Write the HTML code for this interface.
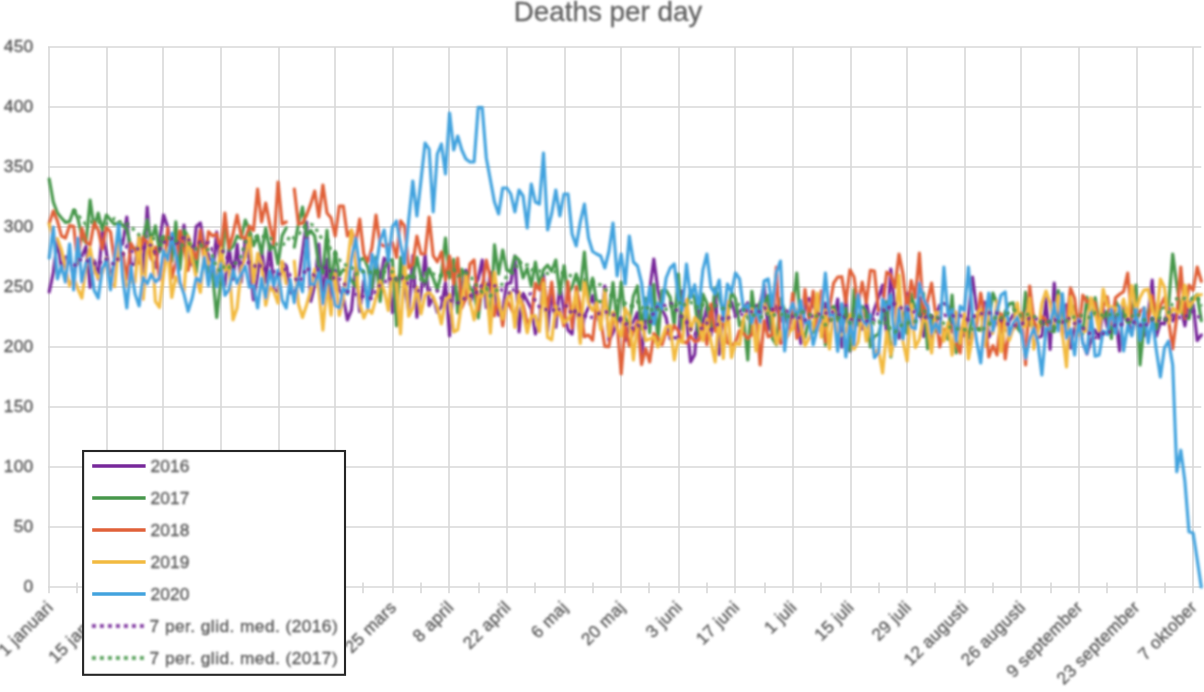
<!DOCTYPE html>
<html><head><meta charset="utf-8"><title>Deaths per day</title>
<style>
html,body{margin:0;padding:0;background:#fff;}
body{width:1204px;height:692px;overflow:hidden;font-family:"Liberation Sans",sans-serif;}
.t,.ti{stroke:#545454;stroke-width:0.3px;}
.t{font-family:"Liberation Sans",sans-serif;font-size:17.3px;fill:#545454;}
.ti{font-family:"Liberation Sans",sans-serif;font-size:27.8px;fill:#606060;stroke:#606060;stroke-width:0.3px;}
</style></head><body>
<svg width="1204" height="692" viewBox="0 0 1204 692" style="display:block">
<defs><filter id="tb" filterUnits="userSpaceOnUse" x="0" y="0" width="1204" height="692"><feGaussianBlur stdDeviation="0.8"/></filter></defs>
<rect width="1204" height="692" fill="#fff"/>
<path d="M48.0 587.0 H1201.3 M48.0 527.0 H1201.3 M48.0 467.0 H1201.3 M48.0 407.0 H1201.3 M48.0 347.0 H1201.3 M48.0 287.0 H1201.3 M48.0 227.0 H1201.3 M48.0 167.0 H1201.3 M48.0 107.0 H1201.3 M48.0 47.0 H1201.3 M49.0 47.0 V593.3 M107.0 47.0 V593.3 M163.0 47.0 V593.3 M221.0 47.0 V593.3 M279.0 47.0 V593.3 M335.0 47.0 V593.3 M393.0 47.0 V593.3 M449.0 47.0 V593.3 M507.0 47.0 V593.3 M565.0 47.0 V593.3 M621.0 47.0 V593.3 M679.0 47.0 V593.3 M735.0 47.0 V593.3 M793.0 47.0 V593.3 M851.0 47.0 V593.3 M907.0 47.0 V593.3 M965.0 47.0 V593.3 M1021.0 47.0 V593.3 M1079.0 47.0 V593.3 M1137.0 47.0 V593.3 M1193.0 47.0 V593.3 M49.0 582.5 V593.3 M77.0 582.5 V593.3 M107.0 582.5 V593.3 M135.0 582.5 V593.3 M163.0 582.5 V593.3 M193.0 582.5 V593.3 M221.0 582.5 V593.3 M249.0 582.5 V593.3 M279.0 582.5 V593.3 M307.0 582.5 V593.3 M335.0 582.5 V593.3 M363.0 582.5 V593.3 M393.0 582.5 V593.3 M421.0 582.5 V593.3 M449.0 582.5 V593.3 M479.0 582.5 V593.3 M507.0 582.5 V593.3 M535.0 582.5 V593.3 M565.0 582.5 V593.3 M593.0 582.5 V593.3 M621.0 582.5 V593.3 M649.0 582.5 V593.3 M679.0 582.5 V593.3 M707.0 582.5 V593.3 M735.0 582.5 V593.3 M765.0 582.5 V593.3 M793.0 582.5 V593.3 M821.0 582.5 V593.3 M851.0 582.5 V593.3 M879.0 582.5 V593.3 M907.0 582.5 V593.3 M935.0 582.5 V593.3 M965.0 582.5 V593.3 M993.0 582.5 V593.3 M1021.0 582.5 V593.3 M1051.0 582.5 V593.3 M1079.0 582.5 V593.3 M1107.0 582.5 V593.3 M1137.0 582.5 V593.3 M1165.0 582.5 V593.3 M1193.0 582.5 V593.3" stroke="#d9d9d9" stroke-width="1.6" fill="none"/>
<g filter="url(#tb)">
<text x="33.3" y="591.5" text-anchor="end" class="t" style="letter-spacing:0.15px;font-size:17.4px">0</text>
<text x="33.3" y="531.5" text-anchor="end" class="t" style="letter-spacing:0.15px;font-size:17.4px">50</text>
<text x="33.3" y="471.5" text-anchor="end" class="t" style="letter-spacing:0.15px;font-size:17.4px">100</text>
<text x="33.3" y="411.5" text-anchor="end" class="t" style="letter-spacing:0.15px;font-size:17.4px">150</text>
<text x="33.3" y="351.5" text-anchor="end" class="t" style="letter-spacing:0.15px;font-size:17.4px">200</text>
<text x="33.3" y="291.5" text-anchor="end" class="t" style="letter-spacing:0.15px;font-size:17.4px">250</text>
<text x="33.3" y="231.5" text-anchor="end" class="t" style="letter-spacing:0.15px;font-size:17.4px">300</text>
<text x="33.3" y="171.5" text-anchor="end" class="t" style="letter-spacing:0.15px;font-size:17.4px">350</text>
<text x="33.3" y="111.5" text-anchor="end" class="t" style="letter-spacing:0.15px;font-size:17.4px">400</text>
<text x="33.3" y="51.5" text-anchor="end" class="t" style="letter-spacing:0.15px;font-size:17.4px">450</text>
<text x="608" y="21" text-anchor="middle" class="ti" style="letter-spacing:0px">Deaths per day</text>
<text transform="translate(54.2,608.3) rotate(-45)" text-anchor="end" class="t" style="letter-spacing:0.3px">1 januari</text>
<text transform="translate(111.4,608.3) rotate(-45)" text-anchor="end" class="t" style="letter-spacing:0.3px">15 januari</text>
<text transform="translate(168.6,608.3) rotate(-45)" text-anchor="end" class="t" style="letter-spacing:0.3px">29 januari</text>
<text transform="translate(225.8,608.3) rotate(-45)" text-anchor="end" class="t" style="letter-spacing:0.3px">12 februari</text>
<text transform="translate(283.0,608.3) rotate(-45)" text-anchor="end" class="t" style="letter-spacing:0.3px">26 februari</text>
<text transform="translate(340.2,608.3) rotate(-45)" text-anchor="end" class="t" style="letter-spacing:0.3px">11 mars</text>
<text transform="translate(397.4,608.3) rotate(-45)" text-anchor="end" class="t" style="letter-spacing:0.3px">25 mars</text>
<text transform="translate(454.6,608.3) rotate(-45)" text-anchor="end" class="t" style="letter-spacing:0.3px">8 april</text>
<text transform="translate(511.8,608.3) rotate(-45)" text-anchor="end" class="t" style="letter-spacing:0.3px">22 april</text>
<text transform="translate(569.0,608.3) rotate(-45)" text-anchor="end" class="t" style="letter-spacing:0.3px">6 maj</text>
<text transform="translate(626.2,608.3) rotate(-45)" text-anchor="end" class="t" style="letter-spacing:0.3px">20 maj</text>
<text transform="translate(683.3,608.3) rotate(-45)" text-anchor="end" class="t" style="letter-spacing:0.3px">3 juni</text>
<text transform="translate(740.5,608.3) rotate(-45)" text-anchor="end" class="t" style="letter-spacing:0.3px">17 juni</text>
<text transform="translate(797.7,608.3) rotate(-45)" text-anchor="end" class="t" style="letter-spacing:0.3px">1 juli</text>
<text transform="translate(854.9,608.3) rotate(-45)" text-anchor="end" class="t" style="letter-spacing:0.3px">15 juli</text>
<text transform="translate(912.1,608.3) rotate(-45)" text-anchor="end" class="t" style="letter-spacing:0.3px">29 juli</text>
<text transform="translate(969.3,608.3) rotate(-45)" text-anchor="end" class="t" style="letter-spacing:0.3px">12 augusti</text>
<text transform="translate(1026.5,608.3) rotate(-45)" text-anchor="end" class="t" style="letter-spacing:0.3px">26 augusti</text>
<text transform="translate(1083.7,608.3) rotate(-45)" text-anchor="end" class="t" style="letter-spacing:0.3px">9 september</text>
<text transform="translate(1140.9,608.3) rotate(-45)" text-anchor="end" class="t" style="letter-spacing:0.3px">23 september</text>
<text transform="translate(1198.1,608.3) rotate(-45)" text-anchor="end" class="t" style="letter-spacing:0.3px">7 oktober</text>
</g>
<g filter="url(#tb)">
<path d="M49.2 291.8 L53.3 272.6 L57.4 239.2 L61.5 269.9 L65.5 256.9 L69.6 257.2 L73.7 278.7 L77.8 253.6 L81.9 256.1 L86.0 246.4 L90.1 287.4 L94.1 260.2 L98.2 279.1 L102.3 231.7 L106.4 252.4 L110.5 278.1 L114.6 263.0 L118.7 236.9 L122.7 244.3 L126.8 217.0 L130.9 265.1 L135.0 264.3 L139.1 237.3 L143.2 272.3 L147.2 207.0 L151.3 257.5 L155.4 267.7 L159.5 241.2 L163.6 215.0 L167.7 227.0 L171.8 253.4 L175.8 239.3 L179.9 253.9 L184.0 225.0 L188.1 259.4 L192.2 265.1 L196.3 226.5 L200.4 223.0 L204.4 247.2 L208.5 254.7 L212.6 275.3 L216.7 232.0 L220.8 272.2 L224.9 285.5 L229.0 244.4 L233.0 279.5 L237.1 244.2 L241.2 282.2 L245.3 239.2 L249.4 261.2 L253.5 300.0 L257.6 276.1 L261.6 247.8 L265.7 282.3 L269.8 243.8 L273.9 289.6 L278.0 292.0 L282.1 262.2 L286.2 265.6 L290.2 292.7 L294.3 294.0 L298.4 281.1 L302.5 252.3 L306.6 222.0 L310.7 301.5 L314.7 285.7 L318.8 244.0 L322.9 297.6 L327.0 259.4 L331.1 306.7 L335.2 270.3 L339.3 289.7 L343.3 297.3 L347.4 320.0 L351.5 310.1 L355.6 267.8 L359.7 311.6 L363.8 280.5 L367.9 303.2 L371.9 292.9 L376.0 259.5 L380.1 280.6 L384.2 258.0 L388.3 262.7 L392.4 312.6 L396.5 285.7 L400.5 270.7 L404.6 287.8 L408.7 311.3 L412.8 255.7 L416.9 317.3 L421.0 293.7 L425.1 254.0 L429.1 305.6 L433.2 297.0 L437.3 312.4 L441.4 306.5 L445.5 282.5 L449.6 336.0 L453.7 281.2 L457.7 303.9 L461.8 292.3 L465.9 270.0 L470.0 304.2 L474.1 288.1 L478.2 278.8 L482.2 260.0 L486.3 307.7 L490.4 272.2 L494.5 290.3 L498.6 315.3 L502.7 310.6 L506.8 283.5 L510.8 283.0 L514.9 256.0 L519.0 332.0 L523.1 293.3 L527.2 300.9 L531.3 308.8 L535.4 334.0 L539.4 323.0 L543.5 274.4 L547.6 331.2 L551.7 287.1 L555.8 327.4 L559.9 283.6 L564.0 312.0 L568.0 330.0 L572.1 334.0 L576.2 293.7 L580.3 340.0 L584.4 316.0 L588.5 307.5 L592.6 295.5 L596.6 313.3 L600.7 325.8 L604.8 286.0 L608.9 340.4 L613.0 333.0 L617.1 322.8 L621.2 317.7 L625.2 340.6 L629.3 326.6 L633.4 321.4 L637.5 312.5 L641.6 356.0 L645.7 317.9 L649.7 290.0 L653.8 259.0 L657.9 290.0 L662.0 309.2 L666.1 317.8 L670.2 338.9 L674.3 337.4 L678.3 339.1 L682.4 290.8 L686.5 319.2 L690.6 362.0 L694.7 354.6 L698.8 301.1 L702.9 328.3 L706.9 305.5 L711.0 335.6 L715.1 288.5 L719.2 354.7 L723.3 306.2 L727.4 312.9 L731.5 301.8 L735.5 314.4 L739.6 311.8 L743.7 307.9 L747.8 302.7 L751.9 334.8 L756.0 305.7 L760.1 304.3 L764.1 285.0 L768.2 330.0 L772.3 301.7 L776.4 307.7 L780.5 321.2 L784.6 313.7 L788.6 329.2 L792.7 312.7 L796.8 316.8 L800.9 343.6 L805.0 303.9 L809.1 298.5 L813.2 306.3 L817.2 311.5 L821.3 327.7 L825.4 303.1 L829.5 319.8 L833.6 321.2 L837.7 299.1 L841.8 347.2 L845.8 294.3 L849.9 351.3 L854.0 300.4 L858.1 324.4 L862.2 329.2 L866.3 302.1 L870.4 322.5 L874.4 309.3 L878.5 297.7 L882.6 285.0 L886.7 337.2 L890.8 269.0 L894.9 307.3 L899.0 338.3 L903.0 329.4 L907.1 293.2 L911.2 319.3 L915.3 322.2 L919.4 297.2 L923.5 336.6 L927.6 304.8 L931.6 341.3 L935.7 316.3 L939.8 305.1 L943.9 303.4 L948.0 306.1 L952.1 331.9 L956.1 312.2 L960.2 333.4 L964.3 335.7 L968.4 315.5 L972.5 277.0 L976.6 309.4 L980.7 314.9 L984.7 302.0 L988.8 337.3 L992.9 329.9 L997.0 319.6 L1001.1 331.2 L1005.2 329.9 L1009.3 321.3 L1013.3 314.6 L1017.4 323.0 L1021.5 328.2 L1025.6 302.4 L1029.7 304.9 L1033.8 328.3 L1037.9 337.4 L1041.9 336.1 L1046.0 298.1 L1050.1 349.4 L1054.2 283.0 L1058.3 324.2 L1062.4 328.1 L1066.5 304.7 L1070.5 348.1 L1074.6 327.6 L1078.7 320.2 L1082.8 342.5 L1086.9 354.0 L1091.0 340.5 L1095.1 330.0 L1099.1 338.0 L1103.2 308.6 L1107.3 327.2 L1111.4 312.3 L1115.5 316.2 L1119.6 351.0 L1123.6 303.6 L1127.7 317.3 L1131.8 334.4 L1135.9 315.6 L1140.0 335.5 L1144.1 336.0 L1148.2 314.5 L1152.2 280.0 L1156.3 336.3 L1160.4 322.9 L1164.5 324.0 L1168.6 307.3 L1172.7 321.0 L1176.8 311.7 L1180.8 308.3 L1184.9 325.9 L1189.0 301.3 L1193.1 304.4 L1197.2 340.5 L1201.3 335.0" stroke="#77289a" stroke-width="3.15" fill="none" stroke-linejoin="round" stroke-linecap="round"/>
<path d="M49.2 179.0 L53.3 202.0 L57.4 213.0 L61.5 218.0 L65.5 222.4 L69.6 221.6 L73.7 210.0 L77.8 218.0 L81.9 237.0 L86.0 243.1 L90.1 200.0 L94.1 228.0 L98.2 213.0 L102.3 230.0 L106.4 215.0 L110.5 220.0 L114.6 224.3 L118.7 223.0 L122.7 225.0 L126.8 229.0 L130.9 247.0 L135.0 250.0 L139.1 246.0 L143.2 238.0 L147.2 220.0 L151.3 241.1 L155.4 225.8 L159.5 251.6 L163.6 236.4 L167.7 246.6 L171.8 261.4 L175.8 221.9 L179.9 269.4 L184.0 230.2 L188.1 236.3 L192.2 250.7 L196.3 272.5 L200.4 231.4 L204.4 254.9 L208.5 272.2 L212.6 274.2 L216.7 317.5 L220.8 280.9 L224.9 222.7 L229.0 250.0 L233.0 246.5 L237.1 236.0 L241.2 238.3 L245.3 220.0 L249.4 230.0 L253.5 245.8 L257.6 236.0 L261.6 253.6 L265.7 228.0 L269.8 250.0 L273.9 244.0 L278.0 264.0 L282.1 235.7 L286.2 228.0 M294.3 247.2 L298.4 224.0 L302.5 207.0 L306.6 236.0 L310.7 230.5 L314.7 236.0 L318.8 266.0 L322.9 273.2 L327.0 230.3 L331.1 286.0 L335.2 251.5 L339.3 275.6 L343.3 269.5 L347.4 271.5 L351.5 280.5 L355.6 286.4 L359.7 260.4 L363.8 257.7 L367.9 267.5 L371.9 287.9 L376.0 257.1 L380.1 301.5 L384.2 269.0 L388.3 260.4 L392.4 259.8 L396.5 326.0 L400.5 257.4 L404.6 285.6 L408.7 275.6 L412.8 277.2 L416.9 257.2 L421.0 277.0 L425.1 283.8 L429.1 268.5 L433.2 278.1 L437.3 289.4 L441.4 274.0 L445.5 238.0 L449.6 278.0 L453.7 259.3 L457.7 313.0 L461.8 269.2 L465.9 276.9 L470.0 288.3 L474.1 292.0 L478.2 318.0 L482.2 285.8 L486.3 285.6 L490.4 324.0 L494.5 244.9 L498.6 274.0 L502.7 250.0 L506.8 270.0 L510.8 272.0 L514.9 256.2 L519.0 260.0 L523.1 278.0 L527.2 268.0 L531.3 286.0 L535.4 262.0 L539.4 286.0 L543.5 269.6 L547.6 265.1 L551.7 271.3 L555.8 260.0 L559.9 294.0 L564.0 265.7 L568.0 294.0 L572.1 286.9 L576.2 274.0 L580.3 290.0 L584.4 252.0 L588.5 298.0 L592.6 278.0 L596.6 302.0 L600.7 301.4 L604.8 302.2 L608.9 314.7 L613.0 282.5 L617.1 322.1 L621.2 282.0 L625.2 318.0 L629.3 324.5 L633.4 296.1 L637.5 286.0 L641.6 329.1 L645.7 298.0 L649.7 332.9 L653.8 284.4 L657.9 340.9 L662.0 290.4 L666.1 290.4 L670.2 297.4 L674.3 326.0 L678.3 274.0 L682.4 329.6 L686.5 309.2 L690.6 290.0 L694.7 299.0 L698.8 336.8 L702.9 294.0 L706.9 303.3 L711.0 327.9 L715.1 288.1 L719.2 298.0 L723.3 312.4 L727.4 317.5 L731.5 291.7 L735.5 299.0 L739.6 325.9 L743.7 319.3 L747.8 360.0 L751.9 291.3 L756.0 321.4 L760.1 302.0 L764.1 303.2 L768.2 295.4 L772.3 338.4 L776.4 345.0 L780.5 298.7 L784.6 310.0 L788.6 325.5 L792.7 306.9 L796.8 273.0 L800.9 328.6 L805.0 337.6 L809.1 318.2 L813.2 332.7 L817.2 313.8 L821.3 297.9 L825.4 345.2 L829.5 308.6 L833.6 306.3 L837.7 320.9 L841.8 319.8 L845.8 308.4 L849.9 350.6 L854.0 289.3 L858.1 324.4 L862.2 306.5 L866.3 312.2 L870.4 347.0 L874.4 336.3 L878.5 334.2 L882.6 318.2 L886.7 301.7 L890.8 357.0 L894.9 331.3 L899.0 312.6 L903.0 313.1 L907.1 333.4 L911.2 293.8 L915.3 309.0 L919.4 314.4 L923.5 293.0 L927.6 349.0 L931.6 316.5 L935.7 331.6 L939.8 328.2 L943.9 331.4 L948.0 339.3 L952.1 295.0 L956.1 353.0 L960.2 337.1 L964.3 323.2 L968.4 338.6 L972.5 315.3 L976.6 328.0 L980.7 330.1 L984.7 316.2 L988.8 323.4 L992.9 293.0 L997.0 303.3 L1001.1 331.9 L1005.2 311.5 L1009.3 303.9 L1013.3 302.9 L1017.4 328.1 L1021.5 333.4 L1025.6 292.2 L1029.7 325.1 L1033.8 326.3 L1037.9 329.7 L1041.9 323.8 L1046.0 322.8 L1050.1 330.5 L1054.2 331.7 L1058.3 290.6 L1062.4 312.5 L1066.5 335.2 L1070.5 311.5 L1074.6 306.0 L1078.7 320.7 L1082.8 334.2 L1086.9 297.0 L1091.0 321.8 L1095.1 297.5 L1099.1 320.3 L1103.2 317.6 L1107.3 311.2 L1111.4 338.5 L1115.5 301.1 L1119.6 308.4 L1123.6 311.2 L1127.7 323.1 L1131.8 321.6 L1135.9 285.0 L1140.0 365.0 L1144.1 324.8 L1148.2 311.8 L1152.2 301.8 L1156.3 328.9 L1160.4 308.0 L1164.5 307.8 L1168.6 305.0 L1172.7 254.0 L1176.8 285.1 L1180.8 311.0 L1184.9 316.7 L1189.0 318.7 L1193.1 298.1 L1197.2 294.3 L1201.3 320.7" stroke="#47974b" stroke-width="3.15" fill="none" stroke-linejoin="round" stroke-linecap="round"/>
<path d="M49.2 223.4 L53.3 211.0 L57.4 220.9 L61.5 236.0 L65.5 238.0 L69.6 225.6 L73.7 226.2 L77.8 263.7 L81.9 228.2 L86.0 242.0 L90.1 245.1 L94.1 222.6 L98.2 230.0 L102.3 249.0 L106.4 227.2 L110.5 232.0 L114.6 261.9 L118.7 259.7 L122.7 252.6 L126.8 279.1 L130.9 243.4 L135.0 249.8 L139.1 263.2 L143.2 237.3 L147.2 242.2 L151.3 259.3 L155.4 247.0 L159.5 279.9 L163.6 271.5 L167.7 227.7 L171.8 278.2 L175.8 262.3 L179.9 230.9 L184.0 246.9 L188.1 270.5 L192.2 249.8 L196.3 258.6 L200.4 230.0 L204.4 265.1 L208.5 231.7 L212.6 236.0 L216.7 234.0 L220.8 249.8 L224.9 213.0 L229.0 248.0 L233.0 234.0 L237.1 215.0 L241.2 236.0 L245.3 239.4 L249.4 226.0 L253.5 230.4 L257.6 189.0 L261.6 222.0 L265.7 203.0 L269.8 224.6 L273.9 244.0 L278.0 182.0 L282.1 224.0 L286.2 222.0 M294.3 189.0 L298.4 224.0 L302.5 223.2 L306.6 215.0 L310.7 204.1 L314.7 191.0 L318.8 217.0 L322.9 185.0 L327.0 213.0 L331.1 218.0 L335.2 236.0 L339.3 206.0 L343.3 206.0 L347.4 236.0 L351.5 230.0 L355.6 244.0 L359.7 219.0 L363.8 254.0 L367.9 261.5 L371.9 248.0 L376.0 215.0 L380.1 244.0 L384.2 246.2 L388.3 244.9 L392.4 242.7 L396.5 257.5 L400.5 220.8 L404.6 226.0 L408.7 268.0 L412.8 264.1 L416.9 236.0 L421.0 254.0 L425.1 253.7 L429.1 217.0 L433.2 255.6 L437.3 262.0 L441.4 252.0 L445.5 280.2 L449.6 256.0 L453.7 284.0 L457.7 258.0 L461.8 308.0 L465.9 298.1 L470.0 264.0 L474.1 260.0 L478.2 310.0 L482.2 287.2 L486.3 260.0 L490.4 278.0 L494.5 316.0 L498.6 298.9 L502.7 326.0 L506.8 300.0 L510.8 308.0 L514.9 316.0 L519.0 298.5 L523.1 304.8 L527.2 323.1 L531.3 318.8 L535.4 283.4 L539.4 290.0 L543.5 278.9 L547.6 309.1 L551.7 282.0 L555.8 316.0 L559.9 311.5 L564.0 326.0 L568.0 281.6 L572.1 328.2 L576.2 286.7 L580.3 306.8 L584.4 336.8 L588.5 335.0 L592.6 340.3 L596.6 303.7 L600.7 319.7 L604.8 346.3 L608.9 346.6 L613.0 320.0 L617.1 322.4 L621.2 374.0 L625.2 323.6 L629.3 346.0 L633.4 330.8 L637.5 321.5 L641.6 364.6 L645.7 348.4 L649.7 362.0 L653.8 333.6 L657.9 338.2 L662.0 345.0 L666.1 331.5 L670.2 335.4 L674.3 325.6 L678.3 330.9 L682.4 341.1 L686.5 343.1 L690.6 335.8 L694.7 341.7 L698.8 340.5 L702.9 324.6 L706.9 344.6 L711.0 304.0 L715.1 331.5 L719.2 326.5 L723.3 319.5 L727.4 342.7 L731.5 345.6 L735.5 342.1 L739.6 330.6 L743.7 333.8 L747.8 338.5 L751.9 334.4 L756.0 309.5 L760.1 365.0 L764.1 320.5 L768.2 336.8 L772.3 334.8 L776.4 267.0 L780.5 343.7 L784.6 340.3 L788.6 334.1 L792.7 293.4 L796.8 338.3 L800.9 332.4 L805.0 289.4 L809.1 319.1 L813.2 291.1 L817.2 330.7 L821.3 290.8 L825.4 341.8 L829.5 307.5 L833.6 283.2 L837.7 277.0 L841.8 276.7 L845.8 303.0 L849.9 269.9 L854.0 277.0 L858.1 305.0 L862.2 282.0 L866.3 303.0 L870.4 270.3 L874.4 271.0 L878.5 311.0 L882.6 308.4 L886.7 272.1 L890.8 275.0 L894.9 287.4 L899.0 254.0 L903.0 274.2 L907.1 311.0 L911.2 280.5 L915.3 297.7 L919.4 253.0 L923.5 315.9 L927.6 301.0 L931.6 283.0 L935.7 315.3 L939.8 347.0 L943.9 329.6 L948.0 328.0 L952.1 326.0 L956.1 342.5 L960.2 353.0 L964.3 314.4 L968.4 351.9 L972.5 334.6 L976.6 324.5 L980.7 293.0 L984.7 316.3 L988.8 357.0 L992.9 345.5 L997.0 355.0 L1001.1 313.7 L1005.2 359.0 L1009.3 329.0 L1013.3 329.4 L1017.4 319.7 L1021.5 313.5 L1025.6 365.0 L1029.7 286.0 L1033.8 319.9 L1037.9 330.8 L1041.9 316.3 L1046.0 320.4 L1050.1 329.4 L1054.2 317.9 L1058.3 301.5 L1062.4 335.6 L1066.5 322.1 L1070.5 288.0 L1074.6 298.3 L1078.7 330.0 L1082.8 295.2 L1086.9 301.8 L1091.0 300.7 L1095.1 303.0 L1099.1 327.2 L1103.2 306.6 L1107.3 296.6 L1111.4 323.8 L1115.5 297.8 L1119.6 294.2 L1123.6 291.6 L1127.7 273.0 L1131.8 318.8 L1135.9 323.6 L1140.0 311.5 L1144.1 307.8 L1148.2 322.4 L1152.2 295.8 L1156.3 311.9 L1160.4 305.9 L1164.5 297.5 L1168.6 320.3 L1172.7 349.0 L1176.8 316.3 L1180.8 267.0 L1184.9 318.4 L1189.0 285.1 L1193.1 290.3 L1197.2 267.0 L1201.3 281.3" stroke="#e06139" stroke-width="3.15" fill="none" stroke-linejoin="round" stroke-linecap="round"/>
<path d="M49.2 224.0 L53.3 238.0 L57.4 238.9 L61.5 250.0 L65.5 267.4 L69.6 285.9 L73.7 277.3 L77.8 288.8 L81.9 298.0 L86.0 266.2 L90.1 247.9 L94.1 270.1 L98.2 278.3 L102.3 273.0 L106.4 258.5 L110.5 282.3 L114.6 286.6 L118.7 242.8 L122.7 269.2 L126.8 286.1 L130.9 281.5 L135.0 282.3 L139.1 236.5 L143.2 299.3 L147.2 250.4 L151.3 238.0 L155.4 301.4 L159.5 307.4 L163.6 274.1 L167.7 248.4 L171.8 297.5 L175.8 276.5 L179.9 283.9 L184.0 291.5 L188.1 236.0 L192.2 259.5 L196.3 277.8 L200.4 292.3 L204.4 250.4 L208.5 263.4 L212.6 262.9 L216.7 280.7 L220.8 248.0 L224.9 270.7 L229.0 265.4 L233.0 320.0 L237.1 308.0 L241.2 268.8 L245.3 257.0 L249.4 236.0 L253.5 282.5 L257.6 253.4 L261.6 264.5 L265.7 305.3 L269.8 286.8 L273.9 291.7 L278.0 303.2 L282.1 261.4 L286.2 283.7 M294.3 261.2 L298.4 304.0 L302.5 317.5 L306.6 305.0 L310.7 290.5 L314.7 269.1 L318.8 289.4 L322.9 330.2 L327.0 284.3 L331.1 315.1 L335.2 273.7 L339.3 315.5 L343.3 298.3 L347.4 266.0 L351.5 230.0 L355.6 264.0 L359.7 303.1 L363.8 318.0 L367.9 308.7 L371.9 313.4 L376.0 297.9 L380.1 281.2 L384.2 290.3 L388.3 310.5 L392.4 268.6 L396.5 283.8 L400.5 334.0 L404.6 262.9 L408.7 316.3 L412.8 308.2 L416.9 287.0 L421.0 314.0 L425.1 295.0 L429.1 292.0 L433.2 297.0 L437.3 307.0 L441.4 324.0 L445.5 300.0 L449.6 294.3 L453.7 332.0 L457.7 329.9 L461.8 302.1 L465.9 275.5 L470.0 301.0 L474.1 320.0 L478.2 297.2 L482.2 296.2 L486.3 283.3 L490.4 333.1 L494.5 272.5 L498.6 301.6 L502.7 318.9 L506.8 300.3 L510.8 292.3 L514.9 327.5 L519.0 291.7 L523.1 312.9 L527.2 332.8 L531.3 316.3 L535.4 315.7 L539.4 331.7 L543.5 283.1 L547.6 337.4 L551.7 340.0 L555.8 306.1 L559.9 314.5 L564.0 322.7 L568.0 319.5 L572.1 311.4 L576.2 292.1 L580.3 343.5 L584.4 281.7 L588.5 303.2 L592.6 310.7 L596.6 302.9 L600.7 329.5 L604.8 290.3 L608.9 336.0 L613.0 312.1 L617.1 327.9 L621.2 336.0 L625.2 308.4 L629.3 316.0 L633.4 360.0 L637.5 323.9 L641.6 322.3 L645.7 340.6 L649.7 339.0 L653.8 336.7 L657.9 347.1 L662.0 338.1 L666.1 327.1 L670.2 325.6 L674.3 360.0 L678.3 339.7 L682.4 342.7 L686.5 299.6 L690.6 330.6 L694.7 317.7 L698.8 322.2 L702.9 340.8 L706.9 319.6 L711.0 341.6 L715.1 362.0 L719.2 315.7 L723.3 358.5 L727.4 301.4 L731.5 357.6 L735.5 343.1 L739.6 344.8 L743.7 317.8 L747.8 311.1 L751.9 309.5 L756.0 351.1 L760.1 321.7 L764.1 304.2 L768.2 313.0 L772.3 313.0 L776.4 343.8 L780.5 331.4 L784.6 342.2 L788.6 332.6 L792.7 328.9 L796.8 309.6 L800.9 324.2 L805.0 345.8 L809.1 338.3 L813.2 326.8 L817.2 293.0 L821.3 337.3 L825.4 310.4 L829.5 349.0 L833.6 310.7 L837.7 336.9 L841.8 334.6 L845.8 331.6 L849.9 314.6 L854.0 349.2 L858.1 342.2 L862.2 310.5 L866.3 341.3 L870.4 321.6 L874.4 355.0 L878.5 348.7 L882.6 373.0 L886.7 331.5 L890.8 355.3 L894.9 333.6 L899.0 275.0 L903.0 341.5 L907.1 361.0 L911.2 304.7 L915.3 347.7 L919.4 339.4 L923.5 317.0 L927.6 323.2 L931.6 353.0 L935.7 312.5 L939.8 312.7 L943.9 341.2 L948.0 322.5 L952.1 355.2 L956.1 312.0 L960.2 343.0 L964.3 312.6 L968.4 359.0 L972.5 336.6 L976.6 314.6 L980.7 309.5 L984.7 346.4 L988.8 304.5 L992.9 333.3 L997.0 301.4 L1001.1 351.8 L1005.2 319.4 L1009.3 340.3 L1013.3 328.0 L1017.4 302.9 L1021.5 327.5 L1025.6 326.2 L1029.7 298.4 L1033.8 349.2 L1037.9 332.4 L1041.9 303.5 L1046.0 291.0 L1050.1 302.8 L1054.2 324.6 L1058.3 295.9 L1062.4 333.3 L1066.5 367.0 L1070.5 297.0 L1074.6 321.9 L1078.7 335.4 L1082.8 330.7 L1086.9 331.3 L1091.0 297.7 L1095.1 312.8 L1099.1 330.7 L1103.2 289.0 L1107.3 305.9 L1111.4 307.0 L1115.5 308.2 L1119.6 313.6 L1123.6 299.1 L1127.7 317.2 L1131.8 285.5 L1135.9 311.1 L1140.0 297.6 L1144.1 290.0 L1148.2 289.2 L1152.2 309.2 L1156.3 320.9 L1160.4 279.0 L1164.5 287.4 L1168.6 323.0 L1172.7 308.0 L1176.8 311.9 L1180.8 312.1 L1184.9 285.1 L1189.0 306.8 L1193.1 301.0 L1197.2 295.1 L1201.3 294.7" stroke="#f2ba40" stroke-width="3.15" fill="none" stroke-linejoin="round" stroke-linecap="round"/>
<path d="M49.2 258.0 L53.3 227.0 L57.4 279.0 L61.5 266.0 L65.5 282.0 L69.6 244.0 L73.7 290.0 L77.8 238.0 L81.9 282.0 L86.0 263.1 L90.1 258.0 L94.1 290.2 L98.2 298.0 L102.3 269.1 L106.4 260.0 L110.5 289.9 L114.6 258.2 L118.7 224.0 L122.7 277.1 L126.8 308.0 L130.9 266.2 L135.0 293.7 L139.1 306.0 L143.2 277.2 L147.2 284.0 L151.3 274.2 L155.4 282.0 L159.5 278.2 L163.6 250.5 L167.7 260.0 L171.8 233.2 L175.8 254.0 L179.9 282.0 L184.0 294.0 L188.1 311.3 L192.2 298.0 L196.3 278.0 L200.4 282.0 L204.4 257.3 L208.5 285.7 L212.6 258.0 L216.7 286.4 L220.8 264.0 L224.9 295.4 L229.0 290.0 L233.0 270.0 L237.1 283.6 L241.2 274.0 L245.3 266.0 L249.4 287.1 L253.5 285.6 L257.6 308.0 L261.6 278.0 L265.7 298.0 L269.8 271.1 L273.9 285.7 L278.0 270.0 L282.1 300.3 L286.2 308.0 L290.2 279.4 L294.3 302.7 L298.4 278.3 L302.5 291.8 L306.6 240.0 L310.7 284.6 L314.7 284.0 L318.8 270.0 L322.9 303.8 L327.0 280.9 L331.1 282.0 L335.2 305.5 L339.3 308.0 L343.3 288.0 L347.4 294.0 L351.5 258.8 L355.6 238.0 L359.7 267.9 L363.8 272.4 L367.9 308.0 L371.9 254.0 L376.0 268.0 L380.1 240.3 L384.2 230.0 L388.3 260.6 L392.4 226.9 L396.5 221.0 L400.5 244.5 L404.6 264.0 L408.7 220.0 L412.8 181.0 L416.9 216.0 L421.0 180.2 L425.1 143.0 L429.1 149.0 L433.2 212.0 L437.3 154.0 L441.4 144.0 L445.5 174.0 L449.6 113.0 L453.7 150.0 L457.7 136.0 L461.8 150.0 L465.9 159.0 L470.0 162.0 L474.1 162.0 L478.2 107.6 L482.2 107.6 L486.3 158.0 L490.4 180.0 L494.5 202.1 L498.6 214.0 L502.7 188.0 L506.8 188.0 L510.8 194.0 L514.9 212.0 L519.0 190.0 L523.1 196.0 L527.2 228.0 L531.3 184.0 L535.4 202.0 L539.4 204.0 L543.5 153.0 L547.6 230.0 L551.7 213.7 L555.8 190.0 L559.9 216.0 L564.0 194.0 L568.0 194.0 L572.1 234.0 L576.2 246.0 L580.3 221.9 L584.4 204.0 L588.5 238.0 L592.6 251.5 L596.6 254.0 L600.7 256.0 L604.8 268.0 L608.9 251.5 L613.0 223.0 L617.1 276.0 L621.2 254.0 L625.2 284.0 L629.3 236.0 L633.4 262.0 L637.5 266.0 L641.6 282.8 L645.7 318.0 L649.7 286.9 L653.8 324.2 L657.9 303.2 L662.0 308.8 L666.1 278.0 L670.2 268.0 L674.3 264.0 L678.3 297.4 L682.4 310.0 L686.5 264.0 L690.6 297.4 L694.7 284.7 L698.8 308.0 L702.9 269.9 L706.9 254.0 L711.0 287.4 L715.1 294.0 L719.2 280.0 L723.3 321.2 L727.4 284.1 L731.5 292.0 L735.5 273.0 L739.6 279.0 L743.7 311.0 L747.8 305.0 L751.9 323.0 L756.0 309.1 L760.1 322.2 L764.1 280.9 L768.2 279.0 L772.3 307.0 L776.4 272.1 L780.5 261.0 L784.6 351.0 L788.6 315.0 L792.7 303.0 L796.8 317.9 L800.9 300.5 L805.0 323.0 L809.1 321.0 L813.2 344.9 L817.2 329.0 L821.3 315.0 L825.4 273.0 L829.5 316.1 L833.6 313.8 L837.7 351.4 L841.8 303.6 L845.8 357.0 L849.9 321.0 L854.0 345.0 L858.1 294.6 L862.2 319.6 L866.3 325.0 L870.4 315.0 L874.4 357.7 L878.5 353.0 L882.6 299.0 L886.7 309.4 L890.8 295.0 L894.9 345.0 L899.0 309.0 L903.0 339.0 L907.1 306.2 L911.2 327.0 L915.3 329.0 L919.4 283.1 L923.5 299.0 L927.6 307.0 L931.6 333.0 L935.7 323.1 L939.8 333.0 L943.9 267.0 L948.0 315.5 L952.1 309.8 L956.1 341.0 L960.2 306.1 L964.3 310.6 L968.4 267.0 L972.5 315.0 L976.6 341.0 L980.7 363.0 L984.7 323.3 L988.8 293.0 L992.9 331.0 L997.0 311.0 L1001.1 295.0 L1005.2 292.0 L1009.3 335.2 L1013.3 323.4 L1017.4 317.0 L1021.5 331.0 L1025.6 358.3 L1029.7 339.0 L1033.8 328.2 L1037.9 343.0 L1041.9 375.0 L1046.0 328.5 L1050.1 328.9 L1054.2 303.0 L1058.3 331.0 L1062.4 293.5 L1066.5 338.2 L1070.5 329.0 L1074.6 355.0 L1078.7 319.2 L1082.8 342.9 L1086.9 353.0 L1091.0 313.0 L1095.1 356.3 L1099.1 355.0 L1103.2 331.0 L1107.3 334.7 L1111.4 309.0 L1115.5 333.4 L1119.6 306.2 L1123.6 351.0 L1127.7 325.6 L1131.8 335.8 L1135.9 309.0 L1140.0 339.8 L1144.1 307.8 L1148.2 343.0 L1152.2 318.3 L1156.3 349.9 L1160.4 377.0 L1164.5 347.8 L1168.6 341.0 L1172.7 365.0 L1176.8 471.8 L1180.8 450.2 L1184.9 481.4 L1189.0 531.8 L1193.1 533.0 L1197.2 559.4 L1201.3 587.0" stroke="#43a3de" stroke-width="3.15" fill="none" stroke-linejoin="round" stroke-linecap="round"/>
</g>
<path d="M73.7 266.6 L77.8 261.2 L81.9 258.8 L86.0 259.8 L90.1 262.3 L94.1 262.8 L98.2 265.9 L102.3 259.2 L106.4 259.0 L110.5 262.2 L114.6 264.6 L118.7 257.3 L122.7 255.1 L126.8 246.2 L130.9 251.0 L135.0 252.7 L139.1 246.8 L143.2 248.2 L147.2 243.9 L151.3 245.8 L155.4 253.0 L159.5 249.6 L163.6 242.6 L167.7 241.1 L171.8 238.4 L175.8 243.0 L179.9 242.5 L184.0 236.4 L188.1 239.0 L192.2 246.2 L196.3 246.1 L200.4 241.8 L204.4 242.9 L208.5 243.0 L212.6 250.2 L216.7 246.3 L220.8 247.3 L224.9 255.7 L229.0 258.8 L233.0 263.4 L237.1 261.9 L241.2 262.9 L245.3 263.9 L249.4 262.3 L253.5 264.4 L257.6 268.9 L261.6 264.4 L265.7 269.8 L269.8 264.3 L273.9 271.5 L278.0 275.9 L282.1 270.5 L286.2 269.0 L290.2 275.4 L294.3 277.1 L298.4 282.4 L302.5 277.1 L306.6 267.1 L310.7 272.7 L314.7 275.6 L318.8 268.6 L322.9 269.2 L327.0 266.1 L331.1 273.8 L335.2 280.7 L339.3 279.0 L343.3 280.7 L347.4 291.6 L351.5 293.3 L355.6 294.5 L359.7 295.2 L363.8 296.7 L367.9 298.6 L371.9 298.0 L376.0 289.4 L380.1 285.2 L384.2 283.8 L388.3 276.8 L392.4 281.4 L396.5 278.8 L400.5 275.7 L404.6 279.7 L408.7 284.1 L412.8 283.8 L416.9 291.6 L421.0 288.9 L425.1 284.4 L429.1 289.4 L433.2 290.7 L437.3 290.8 L441.4 298.1 L445.5 293.1 L449.6 299.2 L453.7 303.0 L457.7 302.8 L461.8 302.1 L465.9 296.1 L470.0 295.7 L474.1 296.5 L478.2 288.4 L482.2 285.3 L486.3 285.9 L490.4 283.0 L494.5 285.9 L498.6 287.5 L502.7 290.7 L506.8 291.4 L510.8 294.6 L514.9 287.3 L519.0 295.8 L523.1 296.2 L527.2 294.2 L531.3 293.9 L535.4 301.1 L539.4 306.9 L543.5 309.5 L547.6 309.4 L551.7 308.5 L555.8 312.3 L559.9 308.7 L564.0 305.5 L568.0 306.5 L572.1 315.0 L576.2 309.7 L580.3 317.2 L584.4 315.6 L588.5 319.0 L592.6 316.7 L596.6 314.3 L600.7 313.1 L604.8 312.0 L608.9 312.1 L613.0 314.5 L617.1 316.7 L621.2 319.9 L625.2 323.8 L629.3 323.9 L633.4 328.9 L637.5 324.9 L641.6 328.2 L645.7 327.5 L649.7 323.6 L653.8 311.9 L657.9 306.7 L662.0 304.9 L666.1 305.7 L670.2 303.3 L674.3 306.0 L678.3 313.1 L682.4 317.6 L686.5 321.8 L690.6 329.3 L694.7 334.6 L698.8 329.2 L702.9 327.9 L706.9 323.1 L711.0 329.5 L715.1 325.1 L719.2 324.0 L723.3 317.1 L727.4 318.8 L731.5 315.0 L735.5 316.3 L739.6 312.9 L743.7 315.7 L747.8 308.3 L751.9 312.3 L756.0 311.3 L760.1 311.7 L764.1 307.5 L768.2 310.1 L772.3 309.2 L776.4 309.9 L780.5 307.9 L784.6 309.1 L788.6 312.6 L792.7 316.6 L796.8 314.7 L800.9 320.7 L805.0 320.2 L809.1 316.9 L813.2 315.9 L817.2 313.3 L821.3 315.5 L825.4 313.5 L829.5 310.1 L833.6 312.6 L837.7 312.7 L841.8 318.5 L845.8 316.0 L849.9 319.4 L854.0 319.0 L858.1 319.7 L862.2 320.8 L866.3 321.3 L870.4 317.7 L874.4 319.9 L878.5 312.2 L882.6 310.1 L886.7 311.9 L890.8 303.3 L894.9 304.0 L899.0 306.3 L903.0 309.1 L907.1 308.5 L911.2 313.4 L915.3 311.2 L919.4 315.3 L923.5 319.5 L927.6 314.7 L931.6 316.4 L935.7 319.7 L939.8 317.6 L943.9 315.0 L948.0 316.2 L952.1 315.6 L956.1 316.6 L960.2 315.5 L964.3 318.3 L968.4 319.7 L972.5 316.0 L976.6 316.4 L980.7 314.0 L984.7 312.6 L988.8 313.1 L992.9 312.3 L997.0 312.9 L1001.1 320.6 L1005.2 323.5 L1009.3 324.5 L1013.3 326.3 L1017.4 324.2 L1021.5 324.0 L1025.6 321.5 L1029.7 317.8 L1033.8 317.5 L1037.9 319.8 L1041.9 322.9 L1046.0 319.4 L1050.1 322.4 L1054.2 319.6 L1058.3 322.4 L1062.4 322.3 L1066.5 317.7 L1070.5 319.4 L1074.6 323.6 L1078.7 319.4 L1082.8 327.9 L1086.9 332.2 L1091.0 333.9 L1095.1 337.6 L1099.1 336.1 L1103.2 333.4 L1107.3 334.4 L1111.4 330.1 L1115.5 324.7 L1119.6 326.2 L1123.6 322.4 L1127.7 319.5 L1131.8 323.2 L1135.9 321.5 L1140.0 324.8 L1144.1 327.6 L1148.2 322.4 L1152.2 319.1 L1156.3 321.8 L1160.4 320.1 L1164.5 321.3 L1168.6 317.3 L1172.7 315.2 L1176.8 314.8 L1180.8 318.8 L1184.9 317.3 L1189.0 314.2 L1193.1 311.4 L1197.2 316.2 L1201.3 318.2" stroke="#77289a" stroke-width="3.3" fill="none" stroke-dasharray="3.5 4.5" filter="url(#tb)" opacity="0.9"/>
<path d="M73.7 209.4 L77.8 215.0 L81.9 220.0 L86.0 224.3 L90.1 221.7 L94.1 222.5 L98.2 221.3 L102.3 224.2 L106.4 223.7 L110.5 221.3 L114.6 218.6 L118.7 221.9 L122.7 221.5 L126.8 223.8 L130.9 226.2 L135.0 231.2 L139.1 234.9 L143.2 236.9 L147.2 236.4 L151.3 238.7 L155.4 238.3 L159.5 238.9 L163.6 237.0 L167.7 237.1 L171.8 240.4 L175.8 240.7 L179.9 244.7 L184.0 245.4 L188.1 243.2 L192.2 245.2 L196.3 248.9 L200.4 244.6 L204.4 249.3 L208.5 249.7 L212.6 256.0 L216.7 267.6 L220.8 272.0 L224.9 264.8 L229.0 267.5 L233.0 266.3 L237.1 261.1 L241.2 256.0 L245.3 242.1 L249.4 234.8 L253.5 238.1 L257.6 236.1 L261.6 237.1 L265.7 236.0 L269.8 237.6 L273.9 241.1 L278.0 245.9 L282.1 244.5 L286.2 243.3 L290.2 235.4 L294.3 238.2 L298.4 234.4 L302.5 229.2 L306.6 225.2 L310.7 224.4 L314.7 225.6 L318.8 235.2 L322.9 238.9 L327.0 239.8 L331.1 251.1 L335.2 253.4 L339.3 259.8 L343.3 264.6 L347.4 265.4 L351.5 266.4 L355.6 274.4 L359.7 270.8 L363.8 271.7 L367.9 270.5 L371.9 273.1 L376.0 271.1 L380.1 274.1 L384.2 271.6 L388.3 271.6 L392.4 271.9 L396.5 280.2 L400.5 275.9 L404.6 280.0 L408.7 276.3 L412.8 277.4 L416.9 277.0 L421.0 279.4 L425.1 273.4 L429.1 275.0 L433.2 273.9 L437.3 275.9 L441.4 275.4 L445.5 272.7 L449.6 272.8 L453.7 269.3 L457.7 275.7 L461.8 274.4 L465.9 272.6 L470.0 274.7 L474.1 282.4 L478.2 288.1 L482.2 291.9 L486.3 288.0 L490.4 295.8 L494.5 291.2 L498.6 289.2 L502.7 283.2 L506.8 276.3 L510.8 274.4 L514.9 270.2 L519.0 261.0 L523.1 265.7 L527.2 264.9 L531.3 270.0 L535.4 268.9 L539.4 270.9 L543.5 272.8 L547.6 273.5 L551.7 272.6 L555.8 271.4 L559.9 272.6 L564.0 273.1 L568.0 274.2 L572.1 276.7 L576.2 278.0 L580.3 280.7 L584.4 279.5 L588.5 280.1 L592.6 281.8 L596.6 283.0 L600.7 285.1 L604.8 289.1 L608.9 292.6 L613.0 297.0 L617.1 300.4 L621.2 301.0 L625.2 303.3 L629.3 306.6 L633.4 305.7 L637.5 301.6 L641.6 308.2 L645.7 304.8 L649.7 312.1 L653.8 307.3 L657.9 309.6 L662.0 308.8 L666.1 309.4 L670.2 304.9 L674.3 308.9 L678.3 300.5 L682.4 307.0 L686.5 302.4 L690.6 302.4 L694.7 303.6 L698.8 309.2 L702.9 304.7 L706.9 308.8 L711.0 308.6 L715.1 305.6 L719.2 306.7 L723.3 308.6 L727.4 305.9 L731.5 305.5 L735.5 304.9 L739.6 304.7 L743.7 309.1 L747.8 318.0 L751.9 315.0 L756.0 315.5 L760.1 317.0 L764.1 317.6 L768.2 313.2 L772.3 315.9 L776.4 313.8 L780.5 314.9 L784.6 313.2 L788.6 316.6 L792.7 317.1 L796.8 313.9 L800.9 312.5 L805.0 311.5 L809.1 314.2 L813.2 317.5 L817.2 315.8 L821.3 314.5 L825.4 324.8 L829.5 322.0 L833.6 317.5 L837.7 317.9 L841.8 316.1 L845.8 315.3 L849.9 322.8 L854.0 314.8 L858.1 317.1 L862.2 317.1 L866.3 315.9 L870.4 319.8 L874.4 323.8 L878.5 321.4 L882.6 325.5 L886.7 322.3 L890.8 329.5 L894.9 332.2 L899.0 327.3 L903.0 324.0 L907.1 323.9 L911.2 320.4 L915.3 321.5 L919.4 315.4 L923.5 309.9 L927.6 315.1 L931.6 315.6 L935.7 315.3 L939.8 320.2 L943.9 323.4 L948.0 327.0 L952.1 327.3 L956.1 327.8 L960.2 330.8 L964.3 329.6 L968.4 331.1 L972.5 328.8 L976.6 327.2 L980.7 332.2 L984.7 326.9 L988.8 325.0 L992.9 320.7 L997.0 315.6 L1001.1 318.0 L1005.2 315.6 L1009.3 311.9 L1013.3 310.0 L1017.4 310.7 L1021.5 316.4 L1025.6 314.8 L1029.7 313.9 L1033.8 316.0 L1037.9 319.7 L1041.9 322.7 L1046.0 321.9 L1050.1 321.5 L1054.2 327.1 L1058.3 322.2 L1062.4 320.2 L1066.5 321.0 L1070.5 319.2 L1074.6 316.8 L1078.7 315.4 L1082.8 315.8 L1086.9 316.7 L1091.0 318.1 L1095.1 312.7 L1099.1 313.9 L1103.2 315.6 L1107.3 314.2 L1111.4 314.8 L1115.5 315.4 L1119.6 313.5 L1123.6 315.5 L1127.7 315.9 L1131.8 316.4 L1135.9 312.7 L1140.0 316.5 L1144.1 319.9 L1148.2 320.4 L1152.2 319.0 L1156.3 319.9 L1160.4 317.9 L1164.5 321.2 L1168.6 312.6 L1172.7 302.5 L1176.8 298.7 L1180.8 300.0 L1184.9 298.2 L1189.0 299.7 L1193.1 298.4 L1197.2 296.8 L1201.3 306.4" stroke="#47974b" stroke-width="3.3" fill="none" stroke-dasharray="3.5 4.5" filter="url(#tb)" opacity="0.9"/>
<rect x="83.1" y="451" width="261.9" height="223.8" fill="#fff" stroke="#262626" stroke-width="2.1"/>
<path d="M92.2 466.0 H145.6" stroke="#77289a" stroke-width="3.4"/>
<path d="M92.2 498.0 H145.6" stroke="#47974b" stroke-width="3.4"/>
<path d="M92.2 530.0 H145.6" stroke="#e06139" stroke-width="3.4"/>
<path d="M92.2 562.0 H145.6" stroke="#f2ba40" stroke-width="3.4"/>
<path d="M92.2 594.0 H145.6" stroke="#43a3de" stroke-width="3.4"/>
<path d="M91.9 626.0 H144" stroke="#77289a" stroke-width="3.8" stroke-dasharray="4 4" filter="url(#tb)" opacity="0.85"/>
<path d="M91.9 658.0 H144" stroke="#47974b" stroke-width="3.8" stroke-dasharray="4 4" filter="url(#tb)" opacity="0.85"/>
<g filter="url(#tb)"><text x="150.5" y="472.0" class="t" style="letter-spacing:0.15px">2016</text><text x="150.5" y="504.0" class="t" style="letter-spacing:0.15px">2017</text><text x="150.5" y="536.0" class="t" style="letter-spacing:0.15px">2018</text><text x="150.5" y="568.0" class="t" style="letter-spacing:0.15px">2019</text><text x="150.5" y="600.0" class="t" style="letter-spacing:0.15px">2020</text><text x="149.6" y="632.0" class="t" style="letter-spacing:0.45px">7 per. glid. med. (2016)</text><text x="149.6" y="664.0" class="t" style="letter-spacing:0.45px">7 per. glid. med. (2017)</text></g>
</svg>
</body></html>
